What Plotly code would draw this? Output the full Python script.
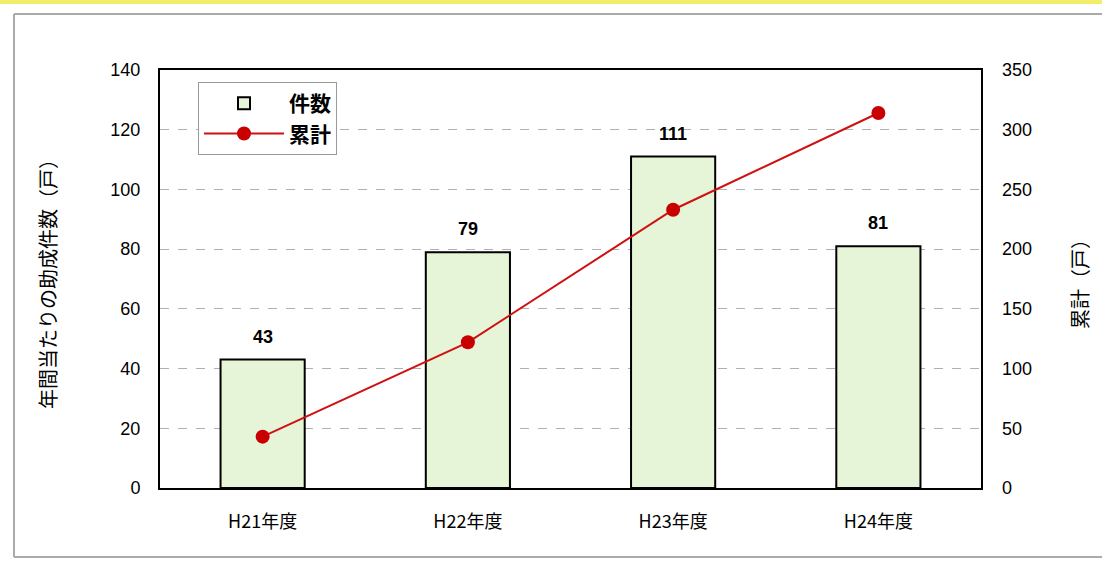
import plotly.graph_objects as go

# Annual subsidised cases and running total
years = ["H21年度", "H22年度", "H23年度", "H24年度"]
cases = [43, 79, 111, 81]
cumulative = [43, 122, 233, 314]

left_ticks = [0, 20, 40, 60, 80, 100, 120, 140]
right_ticks = [0, 50, 100, 150, 200, 250, 300, 350]

FONT = "Liberation Sans, Noto Sans CJK JP, sans-serif"
JP = "Noto Sans CJK JP, sans-serif"
W, H = 1102, 563
ML, MR, MT, MB = 160, 121, 70, 75
PW, PH = W - ML - MR, H - MT - MB


def px_x(p):
    return (p - ML) / PW


def px_y(p):
    return (H - MB - p) / PH


fig = go.Figure()

fig.add_trace(go.Bar(
    x=years, y=cases, name="件数", width=0.41,
    marker=dict(color="#e6f4d8", line=dict(color="#000000", width=2)),
    yaxis="y",
))

fig.add_trace(go.Scatter(
    x=years, y=cumulative, name="累計", mode="lines+markers",
    line=dict(color="#d01010", width=2),
    marker=dict(color="#c80000", size=14),
    yaxis="y2",
))

annotations = [
    dict(x=c, y=v, xref="x", yref="y", text=str(v), showarrow=False,
         yshift=23, font=dict(size=18, color="#000", family=FONT,
                              weight="bold"))
    for c, v in zip(years, cases)
]

shapes = [
    # outer page frame
    dict(type="line", xref="paper", yref="paper",
         x0=px_x(14), x1=px_x(1102), y0=px_y(14), y1=px_y(14),
         line=dict(color="#aaaaaa", width=2)),
    dict(type="line", xref="paper", yref="paper",
         x0=px_x(14), x1=px_x(14), y0=px_y(14), y1=px_y(557),
         line=dict(color="#aaaaaa", width=2)),
    dict(type="line", xref="paper", yref="paper",
         x0=px_x(14), x1=px_x(1102), y0=px_y(557), y1=px_y(557),
         line=dict(color="#aaaaaa", width=2)),
    # yellow strip along the top edge
    dict(type="rect", xref="paper", yref="paper",
         x0=px_x(0), x1=px_x(1102), y0=px_y(0), y1=px_y(4),
         fillcolor="#f3ee6a", line=dict(width=0)),
]

fig.update_layout(
    width=W, height=H,
    margin=dict(l=ML, r=MR, t=MT, b=MB),
    paper_bgcolor="white", plot_bgcolor="white",
    font=dict(family=FONT, size=18, color="#000"),
    bargap=0.59,
    showlegend=True,
    legend=dict(
        x=px_x(198), y=px_y(82), xanchor="left", yanchor="top",
        bgcolor="white", bordercolor="#9a9a9a", borderwidth=1,
        font=dict(size=21, family=JP, color="#000", weight="bold"),
        tracegroupgap=10, itemwidth=80,
    ),
    xaxis=dict(
        type="category", showline=True, linecolor="#000", linewidth=2,
        mirror=True, showgrid=False, ticks="",
        tickfont=dict(size=18, family=JP), ticklabelstandoff=16,
    ),
    yaxis=dict(
        range=[0, 140], tickvals=left_ticks, showline=True,
        linecolor="#000", linewidth=2, mirror=True,
        showgrid=True, gridcolor="#b0b0b0", griddash="dash", gridwidth=1,
        zeroline=False, ticks="", tickfont=dict(size=18),
        ticklabelstandoff=14,
        title=dict(text="年間当たりの助成件数（戸）",
                   font=dict(size=20, family=JP), standoff=48),
    ),
    yaxis2=dict(
        range=[0, 350], tickvals=right_ticks, overlaying="y", side="right",
        showgrid=False, zeroline=False, showline=False, ticks="",
        tickfont=dict(size=18), ticklabelstandoff=20,
        title=dict(text="累計（戸）", font=dict(size=20, family=JP),
                   standoff=42),
    ),
    annotations=annotations,
    shapes=shapes,
)

fig.write_html("out.html")
